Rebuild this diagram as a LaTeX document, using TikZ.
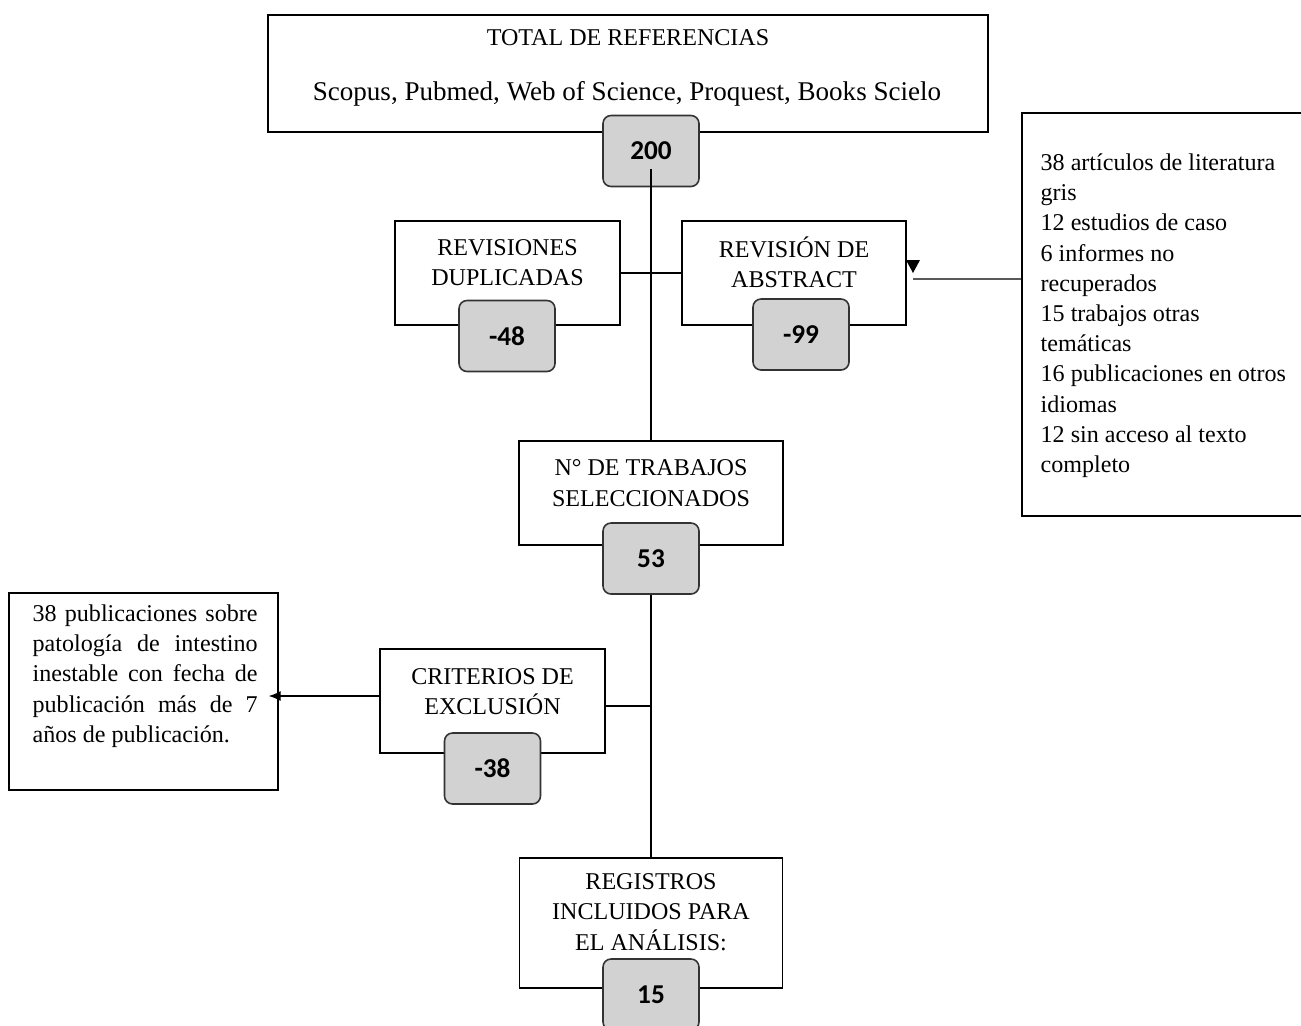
\documentclass[tikz,border=0pt]{standalone}
\usepackage{fontspec}
\setmainfont{Liberation Serif}
\newfontfamily\cifras{Carlito}
\usetikzlibrary{arrows.meta}
\tikzset{
    caja/.style={draw, line width=0.8pt, minimum height=2.08cm, inner sep=0pt},
    rotulo/.style={align=center, font=\fontsize{13.7}{17.2}\selectfont},
    cifra/.style={draw=black!80, fill=gray!35, line width=0.9pt, rounded corners=0.16cm,
        minimum width=1.92cm, minimum height=1.42cm, font=\cifras\bfseries\fontsize{15.5}{18}\selectfont}
}
\begin{document}
\begin{tikzpicture}[x=0.02cm, y=-0.02cm, line width=0.75pt, >={Latex[length=0.24cm,width=0.2cm]}]
    \useasboundingbox (0,0) rectangle (1301,1025);
    % cajas
    \node[caja, minimum width=14.4cm, minimum height=2.34cm] (total) at (628,73.5) {};
    \node[caja, minimum width=4.5cm] (dup) at (507.5,273) {};
    \node[caja, minimum width=4.48cm] (abs) at (794,273) {};
    \node[caja, minimum width=5.28cm] (sel) at (651,493) {};
    \node[caja, minimum width=4.5cm] (crit) at (492.5,701) {};
    \node[caja, minimum width=5.26cm, minimum height=2.6cm] (reg) at (651,923) {};
    \node[caja, minimum width=5.9cm, minimum height=8.06cm] (der) at (1169.5,314.5) {};
    \node[caja, minimum width=5.38cm, minimum height=3.94cm] (izq) at (143.5,691.5) {};
    % textos
    \node[rotulo] (totalt) at (628,38) {TOTAL DE REFERENCIAS};
    \node[rotulo, font=\fontsize{15.4}{18}\selectfont] (bases) at (627,94) {Scopus, Pubmed, Web of Science, Proquest, Books Scielo};
    \node[rotulo] (dupt) at (507.5,263) {REVISIONES\\DUPLICADAS};
    \node[rotulo] (abst) at (794,262.5) {REVISIÓN DE\\ABSTRACT};
    \node[rotulo] (selt) at (651,483) {N° DE TRABAJOS\\SELECCIONADOS};
    \node[rotulo] (critt) at (492.5,692) {CRITERIOS DE\\EXCLUSIÓN};
    \node[rotulo] (regt) at (651,912) {REGISTROS\\INCLUIDOS PARA\\EL ANÁLISIS:};
    \node[rotulo, align=left, anchor=north west, inner sep=0pt] (dert) at (1040,153)
        {38 artículos de literatura\\gris\\12 estudios de caso\\6 informes no\\recuperados\\15 trabajos otras\\temáticas\\16 publicaciones en otros\\idiomas\\12 sin acceso al texto\\completo};
    \node[rotulo, text width=4.5cm, align=justify, anchor=north west, inner sep=0pt] (izqt) at (32,604)
        {38 publicaciones sobre\linebreak patología de intestino\linebreak inestable con fecha de\linebreak publicación más de 7\linebreak años de publicación.};
    % cifras
    \foreach \nombre/\x/\y/\valor in {n200/651/151/200, n48/507/336/-48, n99/801/334.5/-99,
        n53/651/558.5/53, n38/492.5/768.5/-38, n15/651/994.5/15}
    {
        \node[cifra] (\nombre) at (\x,\y) {\valor};
    }
    % conectores
    \draw ([yshift=-0.36cm]n200.center) -- (sel.north);
    \draw (dup.east) -- (abs.west);
    \draw (n53.south) -- (reg.north);
    \coordinate (cc) at ([yshift=-0.1cm]crit.east);
    \draw (cc) -- (cc -| n53.south);
    \coordinate (ca) at ([yshift=0.1cm]crit.west);
    \draw[->, shorten >=-0.2cm] (ca) -- (ca -| izq.east);
    \coordinate (cd) at ([yshift=0.71cm]der.west);
    \coordinate (punta) at (913,279);
    \draw (cd) -- (punta);
    \fill ([shift={(-7,-19)}]punta) -- ++(14,0) -- ++(-7,13) -- cycle;
\end{tikzpicture}
\end{document}
